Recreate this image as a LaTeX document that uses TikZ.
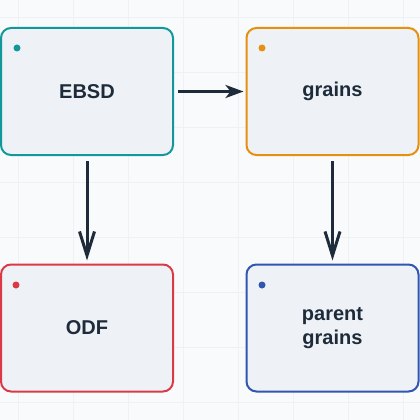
\documentclass[tikz,border=0pt]{standalone}
\usepackage{fontspec}
\setmainfont{Liberation Sans}
\usetikzlibrary{arrows.meta}
\definecolor{bgc}{HTML}{F8FAFC}
\definecolor{gridc}{HTML}{EFF2F5}
\definecolor{boxfill}{HTML}{EEF2F6}
\definecolor{txt}{HTML}{1E2B3A}
\definecolor{cteal}{HTML}{12989A}
\definecolor{corange}{HTML}{E6900F}
\definecolor{cred}{HTML}{D93A45}
\definecolor{cblue}{HTML}{3056B2}
\tikzset{
  card/.style={draw=#1, fill=boxfill, line width=2pt, rounded corners=10pt,
    minimum width=172pt, minimum height=127pt, inner sep=0pt,
    font=\fontsize{20}{24}\selectfont\bfseries, text=txt, align=center},
  dotmark/.style={fill=#1, draw=none, circle, minimum size=7pt, inner sep=0pt},
  flowh/.style={draw=txt, line width=3pt, -{Stealth[length=18pt,width=13pt,inset=5pt]}},
  flowv/.style={draw=txt, line width=3pt, -{Straight Barb[length=24pt,width=15pt,line width=3pt]}}
}
\begin{document}
\begin{tikzpicture}[x=1pt,y=-1pt]
\useasboundingbox (0,0) rectangle (420,420);
\fill[bgc] (0,0) rectangle (420,420);
\foreach \g in {18,73,...,420} \draw[gridc, line width=0.7pt] (\g,0) -- (\g,420);
\foreach \g in {17,72,...,420} \draw[gridc, line width=0.7pt] (0,\g) -- (420,\g);

\node[card=cteal] (ebsd) at (87,91.5) {EBSD};
\node[card=corange] (grains) at (332.5,91.5) {grains};
\node[card=cred] (odf) at (87,328) {ODF};
\node[card=cblue] (parent) at (332.5,328) {parent\\grains};

\node[dotmark=cteal] (d1) at (17,48) {};
\node[dotmark=corange] (d2) at (262,48) {};
\node[dotmark=cred] (d3) at (16,285) {};
\node[dotmark=cblue] (d4) at (262,285) {};

\draw[flowh, shorten <=4pt, shorten >=2pt] (ebsd.east) -- (grains.west);
\draw[flowv, shorten <=5pt, shorten >=3pt] (ebsd.south) -- (odf.north);
\draw[flowv, shorten <=5pt, shorten >=3pt] (grains.south) -- (parent.north);
\end{tikzpicture}
\end{document}
